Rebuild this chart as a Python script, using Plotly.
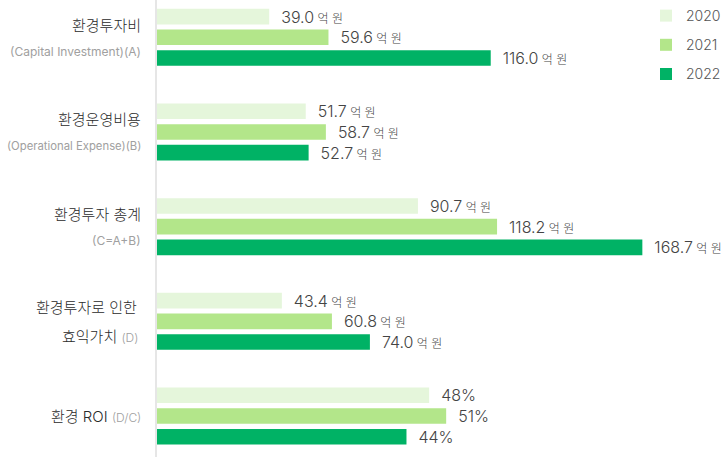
import plotly.graph_objects as go

# ---- data ----
categories_main = ["환경투자비", "환경운영비용", "환경투자 총계", "환경투자로 인한"]
categories_sub = ["(Capital Investment)(A)", "(Operational Expense)(B)", "(C=A+B)", "(D)"]
line2_main_cat4 = "효익가치"
roi_label = "환경 ROI"
roi_sub = "(D/C)"
years = ["2020", "2021", "2022"]
money_2020 = [39.0, 51.7, 90.7, 43.4]
money_2021 = [59.6, 58.7, 118.2, 60.8]
money_2022 = [116.0, 52.7, 168.7, 74.0]
roi_2020 = [48]
roi_2021 = [51]
roi_2022 = [44]
colors = ["#e5f6db", "#b3e68a", "#00b265"]

FONT = "Inter, 'Noto Sans CJK KR', sans-serif"
PITCH = 0.2186
W = 0.165

fig = go.Figure()
money = [money_2020, money_2021, money_2022]
roi = [roi_2020, roi_2021, roi_2022]
pos_money = list(range(len(money_2020)))
pos_roi = [len(money_2020)]

for k, yr in enumerate(years):
    off = (k - 1) * PITCH - W / 2
    fig.add_trace(go.Bar(
        x=money[k], y=pos_money, orientation="h", name=yr,
        legendgroup=yr, width=W, offset=off,
        marker=dict(color=colors[k], line=dict(width=0)),
        texttemplate="\u00a0\u00a0%{x:.1f}<span style='font-size:12px'> 억 원</span>",
        textposition="outside", cliponaxis=False, constraintext="none",
        textfont=dict(family=FONT, size=16, color="#444444", weight=300),
        hoverinfo="skip",
    ))
    fig.add_trace(go.Bar(
        x=roi[k], y=pos_roi, orientation="h", name=yr,
        legendgroup=yr, showlegend=False, width=W, offset=off,
        xaxis="x2",
        marker=dict(color=colors[k], line=dict(width=0)),
        texttemplate="\u00a0\u00a0%{x}%",
        textposition="outside", cliponaxis=False, constraintext="none",
        textfont=dict(family=FONT, size=16, color="#444444", weight=300),
        hoverinfo="skip",
    ))

PX_MAIN = 2.877
PX_ROI = 5.67
plot_w = 726 - 157

LBL = dict(family=FONT, size=15, color="#2a2a2a", weight=300)
SUB = "font-size:12px;color:#a0a0a0"
sub_sizes = [12, 11.3, 12, 12]
annotations = []
for i, (m, s) in enumerate(zip(categories_main, categories_sub)):
    if i == 3:
        annotations.append(dict(x=0, y=i, xref="paper", yref="y", xanchor="right",
                                yanchor="middle", xshift=-18, yshift=14, showarrow=False,
                                text=m, font=LBL))
        annotations.append(dict(x=0, y=i, xref="paper", yref="y", xanchor="right",
                                yanchor="middle", xshift=-17, yshift=-15, showarrow=False,
                                text=line2_main_cat4 + " <span style='" + SUB + "'>" + s + "</span>",
                                font=LBL))
    else:
        annotations.append(dict(x=0, y=i, xref="paper", yref="y", xanchor="right",
                                yanchor="middle", xshift=-14, yshift=12, showarrow=False,
                                text=m, font=LBL))
        annotations.append(dict(x=0, y=i, xref="paper", yref="y", xanchor="right",
                                yanchor="middle", xshift=-14, yshift=-14, showarrow=False,
                                text=s, font=dict(family=FONT, size=sub_sizes[i], color="#a0a0a0", weight=400)))
annotations.append(dict(x=0, y=pos_roi[0], xref="paper", yref="y", xanchor="right",
                        yanchor="middle", xshift=-14, showarrow=False,
                        text=roi_label + " <span style='" + SUB + "'>" + roi_sub + "</span>",
                        font=LBL))

fig.update_layout(
    width=726, height=457,
    margin=dict(l=157, r=0, t=0, b=0),
    paper_bgcolor="white", plot_bgcolor="white",
    barmode="overlay",
    font=dict(family=FONT),
    xaxis=dict(range=[0, plot_w / PX_MAIN], visible=False, fixedrange=True),
    xaxis2=dict(range=[0, plot_w / PX_ROI], overlaying="x", visible=False, fixedrange=True),
    yaxis=dict(range=[4.433, -0.394], showticklabels=False, showgrid=False, zeroline=False,
               showline=True, linecolor="#e6e6e6", linewidth=2, ticks=""),
    legend=dict(x=1, xanchor="right", y=1, yanchor="top", traceorder="grouped",
                tracegroupgap=8, font=dict(family=FONT, size=14, color="#555555", weight=300),
                bgcolor="rgba(0,0,0,0)", itemclick=False),
    annotations=annotations,
    showlegend=True,
)

fig.write_html("out.html")
